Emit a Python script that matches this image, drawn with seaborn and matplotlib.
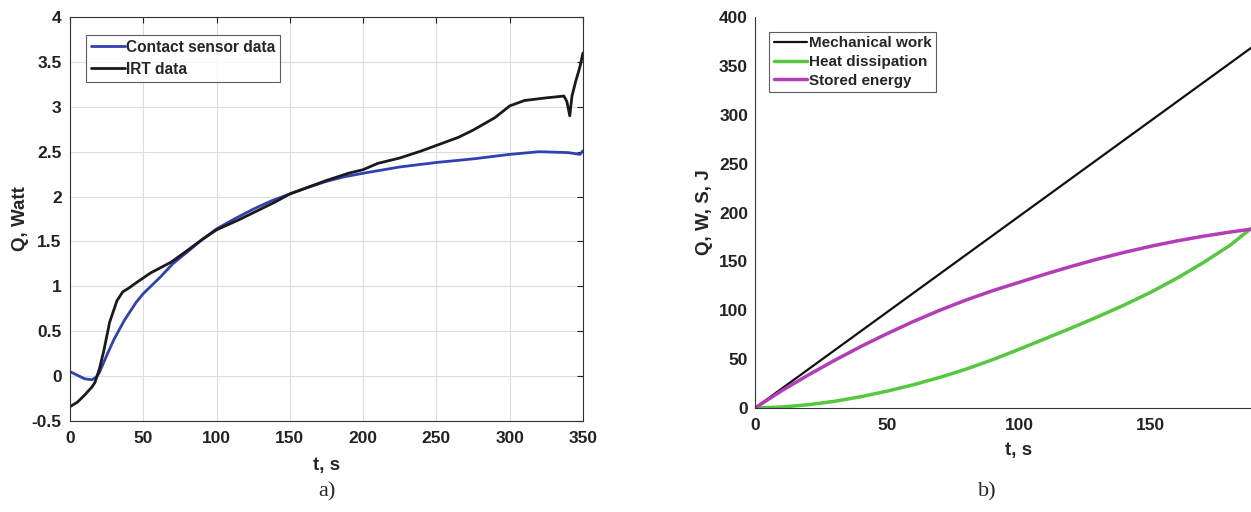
import seaborn as sns
import pandas as pd
import matplotlib.pyplot as plt
import numpy as np

# --- panel a: heat flux, contact sensor vs IRT ---
t_contact = [0, 5, 10, 15, 18, 20, 25, 30, 37, 45, 50, 62, 70, 82, 90, 100, 112, 125,
             137, 150, 162, 175, 187, 200, 225, 250, 275, 300, 320, 340, 348, 350]
q_contact = [0.05, 0.01, -0.03, -0.04, -0.01, 0.04, 0.23, 0.41, 0.62, 0.82, 0.92, 1.11,
             1.25, 1.41, 1.52, 1.64, 1.75, 1.86, 1.95, 2.03, 2.10, 2.17, 2.22, 2.26,
             2.33, 2.38, 2.42, 2.47, 2.50, 2.49, 2.47, 2.51]

t_irt = [0, 5, 10, 15, 17, 20, 23, 27, 32, 36, 40, 46, 55, 62, 69, 80, 90, 100, 115, 125,
         140, 150, 165, 175, 190, 200, 210, 225, 240, 250, 265, 275, 290, 300, 310,
         325, 337, 339, 341, 342.5, 345, 348, 350]
q_irt = [-0.34, -0.29, -0.21, -0.12, -0.07, 0.08, 0.28, 0.60, 0.84, 0.94, 0.98, 1.05,
         1.15, 1.21, 1.27, 1.40, 1.52, 1.63, 1.74, 1.82, 1.94, 2.03, 2.12, 2.18, 2.26,
         2.30, 2.37, 2.43, 2.51, 2.57, 2.66, 2.74, 2.88, 3.01, 3.07, 3.10, 3.12, 3.06,
         2.90, 3.12, 3.28, 3.45, 3.60]

# --- panel b: energy balance ---
t_energy = [0, 10, 20, 30, 40, 50, 60, 70, 80, 90, 100, 110, 120, 130, 140, 150, 160,
            170, 180, 188]
mech_work = [0, 19.6, 39.2, 58.8, 78.4, 98, 117.6, 137.2, 156.8, 176.4, 196, 215.6,
             235.2, 254.8, 274.4, 294, 313.6, 333.2, 352.8, 368.5]
heat_diss = [0, 1, 3.3, 6.8, 11.5, 17.2, 23.8, 31.3, 39.8, 49.4, 60, 71, 82, 93.5,
             105.5, 118.5, 133, 149, 166.5, 183.8]
stored = [0, 17.5, 33.5, 48.5, 62.8, 76, 88.5, 100, 110.5, 120, 128.5, 137, 145,
          152.5, 159.3, 165.5, 171, 175.8, 180, 183]

sns.set_style("white")
plt.rcParams['font.family'] = ['Liberation Sans', 'DejaVu Sans']
plt.rcParams['font.weight'] = 'bold'
plt.rcParams['axes.labelweight'] = 'bold'

fig = plt.figure(figsize=(12.51, 5.12), dpi=100)
ax1 = fig.add_axes([0.0560, 0.1777, 0.410, 0.789])
ax2 = fig.add_axes([0.6035, 0.2031, 0.422, 0.7637])

sns.lineplot(x=t_contact, y=q_contact, ax=ax1, color='#3140b2', lw=2,
             label='Contact sensor data')
sns.lineplot(x=t_irt, y=q_irt, ax=ax1, color='#1a1a1a', lw=2, label='IRT data')
ax1.set_xlim(0, 350)
ax1.set_ylim(-0.5, 4)
ax1.set_xticks(np.arange(0, 351, 50))
ax1.set_yticks(np.arange(-0.5, 4.01, 0.5))
ax1.set_yticklabels(['-0.5', '0', '0.5', '1', '1.5', '2', '2.5', '3', '3.5', '4'])
ax1.grid(True, color='#dddddd', lw=0.8)
ax1.set_xlabel('t, s', fontsize=13.5, labelpad=8)
ax1.set_ylabel('Q, Watt', fontsize=13.5, labelpad=2)
for s in ax1.spines.values():
    s.set_color('#333333')
    s.set_linewidth(0.8)
ax1.tick_params(direction='in', length=4, labelsize=12.5, colors='#222222',
                top=True, right=True)
ax1.tick_params(axis='x', pad=7)
ax1.tick_params(axis='y', pad=6)
leg1 = ax1.legend(loc='upper left', bbox_to_anchor=(0.031, 0.955), fontsize=11.2,
                  frameon=True, fancybox=False, edgecolor='#333333', handlelength=2.2,
                  borderpad=0.3, labelspacing=0.45, handletextpad=0.1, borderaxespad=0)
leg1.get_frame().set_linewidth(0.8)

sns.lineplot(x=t_energy, y=mech_work, ax=ax2, color='#111111', lw=1.6,
             label='Mechanical work')
sns.lineplot(x=t_energy, y=heat_diss, ax=ax2, color='#55c83f', lw=2.5,
             label='Heat dissipation')
sns.lineplot(x=t_energy, y=stored, ax=ax2, color='#b33db6', lw=2.5,
             label='Stored energy')
ax2.set_xlim(0, 200)
ax2.set_ylim(0, 400)
ax2.set_xticks(np.arange(0, 151, 50))
ax2.set_yticks(np.arange(0, 401, 50))
ax2.set_xlabel('t, s', fontsize=13.5, labelpad=7)
ax2.set_ylabel('Q, W, S, J', fontsize=13.5, labelpad=4)
ax2.spines['top'].set_visible(False)
ax2.spines['right'].set_visible(False)
for s in ['left', 'bottom']:
    ax2.spines[s].set_color('#333333')
    ax2.spines[s].set_linewidth(0.8)
ax2.tick_params(direction='in', length=4, labelsize=12.5, colors='#222222')
ax2.tick_params(axis='x', pad=7)
ax2.tick_params(axis='y', pad=5)
leg2 = ax2.legend(loc='upper left', bbox_to_anchor=(0.027, 0.962), fontsize=11,
                  frameon=True, fancybox=False, edgecolor='#333333', handlelength=2.2,
                  borderpad=0.3, labelspacing=0.3, handletextpad=0.1, borderaxespad=0)
leg2.get_frame().set_linewidth(0.8)

fig.text(327 / 1251, 1 - 492 / 512, 'a)', ha='center', va='center', fontsize=16,
         family='Liberation Serif', weight='normal')
fig.text(987 / 1251, 1 - 492 / 512, 'b)', ha='center', va='center', fontsize=16,
         family='Liberation Serif', weight='normal')

fig.savefig('out.png', dpi=100)
